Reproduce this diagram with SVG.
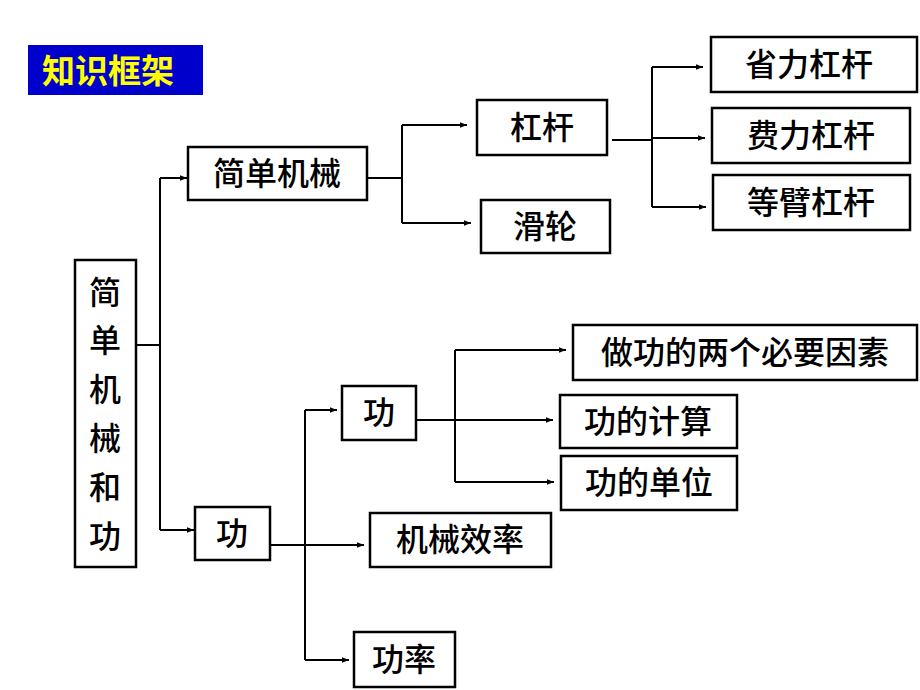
<svg xmlns="http://www.w3.org/2000/svg" width="920" height="690" viewBox="0 0 920 690">
<style>
.b{fill:#fff;stroke:#000;stroke-width:2.5}
.t{font-family:"Liberation Sans","Noto Sans CJK SC",sans-serif;font-size:32px;font-weight:500;fill:#000;text-anchor:middle;dominant-baseline:central}
.c{fill:none;stroke:#000;stroke-width:2}
</style>
<defs><marker id="a" viewBox="0 0 10 10" refX="10" refY="5" markerWidth="7" markerHeight="7" orient="auto" markerUnits="userSpaceOnUse"><path d="M0,1L10,5L0,9z" fill="#000"/></marker></defs>
<rect width="920" height="690" fill="#fff"/>
<g id="title"><rect x="28" y="45" width="175" height="50" fill="#0000cc"/><text x="108" y="71" class="t" style="fill:#ffff00;font-weight:bold;font-size:33px">知识框架</text></g>
<g id="connectors">
<path class="c" d="M136,345H160M160,178V530"/>
<path class="c" d="M160,178H187" marker-end="url(#a)"/><path class="c" d="M160,530H194" marker-end="url(#a)"/>
<path class="c" d="M367,178H402M402,125V223"/>
<path class="c" d="M402,125H467" marker-end="url(#a)"/><path class="c" d="M402,223H471" marker-end="url(#a)"/>
<path class="c" d="M612,140H652M652,67V207"/>
<path class="c" d="M652,67H703" marker-end="url(#a)"/><path class="c" d="M652,138H705" marker-end="url(#a)"/><path class="c" d="M652,207H706" marker-end="url(#a)"/>
<path class="c" d="M270,545H305M305,410V660"/>
<path class="c" d="M305,410H337" marker-end="url(#a)"/><path class="c" d="M305,545H364" marker-end="url(#a)"/><path class="c" d="M305,660H349" marker-end="url(#a)"/>
<path class="c" d="M416,420H455M455,350V482"/>
<path class="c" d="M455,350H566" marker-end="url(#a)"/><path class="c" d="M455,420H553" marker-end="url(#a)"/><path class="c" d="M455,482H554" marker-end="url(#a)"/>
</g>
<g id="root"><rect class="b" x="75" y="260" width="61" height="307"/>
<text class="t" x="105" y="293">简</text><text class="t" x="105" y="341">单</text><text class="t" x="105" y="390">机</text><text class="t" x="105" y="439">械</text><text class="t" x="105" y="488">和</text><text class="t" x="105" y="537">功</text></g>
<g id="n1"><rect class="b" x="188" y="147" width="179" height="53"/><text class="t" x="277" y="174">简单机械</text></g>
<g id="n2"><rect class="b" x="195" y="507" width="75" height="53"/><text class="t" x="232" y="534">功</text></g>
<g id="n3"><rect class="b" x="477" y="100" width="130" height="55"/><text class="t" x="542" y="128">杠杆</text></g>
<g id="n4"><rect class="b" x="481" y="200" width="129" height="53"/><text class="t" x="545" y="227">滑轮</text></g>
<g id="n5"><rect class="b" x="711" y="37" width="206" height="55"/><text class="t" x="809" y="65">省力杠杆</text></g>
<g id="n6"><rect class="b" x="712" y="108" width="198" height="55"/><text class="t" x="811" y="136">费力杠杆</text></g>
<g id="n7"><rect class="b" x="713" y="175" width="197" height="55"/><text class="t" x="811" y="203">等臂杠杆</text></g>
<g id="n8"><rect class="b" x="342" y="386" width="74" height="54"/><text class="t" x="379" y="413">功</text></g>
<g id="n9"><rect class="b" x="573" y="325" width="344" height="55"/><text class="t" x="745" y="353">做功的两个必要因素</text></g>
<g id="n10"><rect class="b" x="560" y="395" width="177" height="53"/><text class="t" x="648" y="422">功的计算</text></g>
<g id="n11"><rect class="b" x="561" y="456" width="176" height="54"/><text class="t" x="649" y="483">功的单位</text></g>
<g id="n12"><rect class="b" x="370" y="513" width="181" height="54"/><text class="t" x="460" y="540">机械效率</text></g>
<g id="n13"><rect class="b" x="354" y="632" width="101" height="55"/><text class="t" x="404" y="660">功率</text></g>
</svg>
